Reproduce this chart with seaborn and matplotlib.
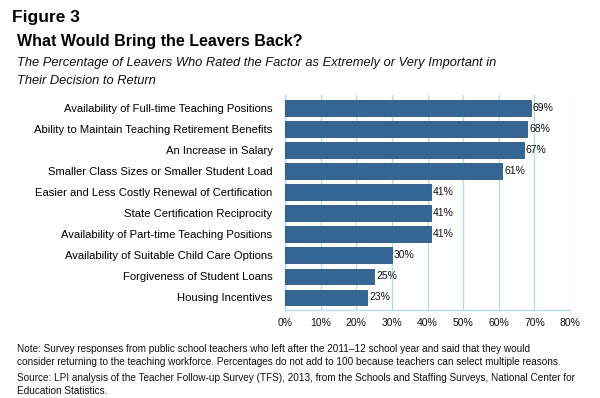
import matplotlib
matplotlib.use("Agg")
import pandas as pd
import seaborn as sns
import matplotlib.pyplot as plt
from matplotlib.ticker import MultipleLocator, FuncFormatter

factors = [
    "Availability of Full-time Teaching Positions",
    "Ability to Maintain Teaching Retirement Benefits",
    "An Increase in Salary",
    "Smaller Class Sizes or Smaller Student Load",
    "Easier and Less Costly Renewal of Certification",
    "State Certification Reciprocity",
    "Availability of Part-time Teaching Positions",
    "Availability of Suitable Child Care Options",
    "Forgiveness of Student Loans",
    "Housing Incentives",
]
percent = [69, 68, 67, 61, 41, 41, 41, 30, 25, 23]

df = pd.DataFrame({"factor": factors, "percent": percent})

sns.set_style("white")
plt.rcParams["font.family"] = ["Liberation Sans", "DejaVu Sans"]

bar_color = "#356592"
grid_color = "#b5dde9"

fig = plt.figure(figsize=(6, 3.98), dpi=100)
ax = fig.add_axes([0.475, 0.221, 0.475, 0.540])

sns.barplot(data=df, x="percent", y="factor", color=bar_color, width=0.74,
            saturation=1, edgecolor="#2a5580", linewidth=0.6, ax=ax, zorder=3)

for i, v in enumerate(percent):
    ax.text(v + 0.6, i, f"{v}%", va="center", ha="left", fontsize=7.5, color="#111111")

ax.set_xlim(0, 80)
ax.set_ylim(9.6, -0.6)
ax.xaxis.set_major_locator(MultipleLocator(10))
ax.xaxis.set_major_formatter(FuncFormatter(lambda x, _: f"{int(x)}%"))
ax.grid(axis="x", color=grid_color, linewidth=1, zorder=0)
ax.set_xlabel("")
ax.set_ylabel("")
for s in ["top", "right"]:
    ax.spines[s].set_visible(False)
ax.spines["left"].set_color(grid_color)
ax.spines["bottom"].set_color(grid_color)
ax.spines["left"].set_linewidth(1)
ax.spines["bottom"].set_linewidth(1)
ax.tick_params(axis="x", labelsize=7.5, colors="#111111", length=0, pad=6)
ax.tick_params(axis="y", labelsize=8.1, colors="#000000", length=0, pad=9)

fig.text(0.02, 0.945, "Figure 3", fontsize=12.5, fontweight="bold", color="#000000")
fig.text(0.028, 0.885, "What Would Bring the Leavers Back?", fontsize=11.5,
         fontweight="bold", color="#000000")
fig.text(0.028, 0.835, "The Percentage of Leavers Who Rated the Factor as Extremely or Very Important in",
         fontsize=9.3, style="italic", color="#111111")
fig.text(0.028, 0.79, "Their Decision to Return", fontsize=9.3, style="italic", color="#111111")

fig.text(0.028, 0.115, "Note: Survey responses from public school teachers who left after the 2011\u201312 school year and said that they would",
         fontsize=7.2, color="#111111")
fig.text(0.028, 0.082, "consider returning to the teaching workforce. Percentages do not add to 100 because teachers can select multiple reasons.",
         fontsize=7.2, color="#111111")
fig.text(0.028, 0.042, "Source: LPI analysis of the Teacher Follow-up Survey (TFS), 2013, from the Schools and Staffing Surveys, National Center for",
         fontsize=7.2, color="#111111")
fig.text(0.028, 0.009, "Education Statistics.", fontsize=7.2, color="#111111")

fig.savefig("out.png", dpi=100)
